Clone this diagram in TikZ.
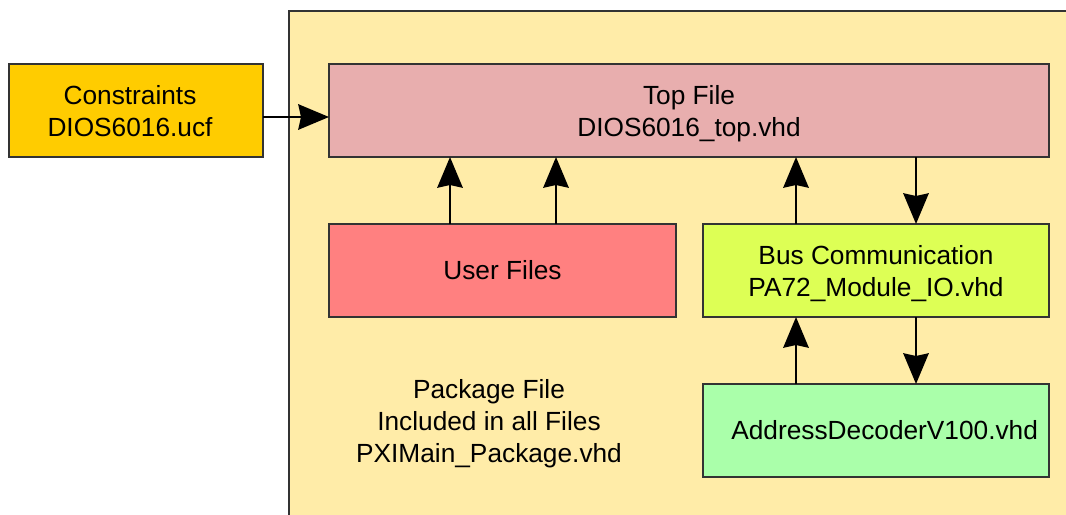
\documentclass[tikz,border=0pt]{standalone}
\usepackage{fontspec}
\setmainfont{Liberation Sans}
\usetikzlibrary{arrows.meta, positioning}

\definecolor{pkgbg}{HTML}{FFECA8}
\definecolor{constrfill}{HTML}{FFCC00}
\definecolor{topfill}{HTML}{E8AEAE}
\definecolor{userfill}{HTML}{FF8080}
\definecolor{busfill}{HTML}{DDFF55}
\definecolor{addrfill}{HTML}{AAFFAA}
\definecolor{edge}{HTML}{333333}

\begin{document}
\begin{tikzpicture}[
  x=0.75pt, y=-0.75pt,
  node distance=50.25pt and 20.25pt,
  every node/.style={align=center, font=\fontsize{19.7}{24}\selectfont},
  box/.style={draw=edge, line width=0.8pt, rectangle, inner sep=0pt, outer sep=0pt, minimum height=69.75pt},
  twoline/.style={text depth=0pt},
  arrow/.style={-{Stealth[length=23pt, width=19pt, inset=2pt]}, line width=2pt}
]
\useasboundingbox (0,0) rectangle (1066,514);

% Package area
\begin{scope}
  \clip (0,0) rectangle (1066,514);
  \filldraw[fill=pkgbg, draw=edge, line width=0.8pt] (289,11) rectangle (1080,530);
\end{scope}

% Nodes
\node[box, twoline, fill=topfill, minimum width=540pt] (top) at (689,110.5) {Top File\\DIOS6016\_top.vhd};
\node[box, twoline, fill=constrfill, minimum width=190.5pt, left=49.5pt of top] (constr) {Constraints\hspace*{9pt}\\DIOS6016.ucf\hspace*{9pt}};
\node[box, fill=userfill, minimum width=260.25pt, below=of top.south west, anchor=north west] (user) {User Files};
\node[box, twoline, fill=busfill, minimum width=259.5pt, right=of user] (bus) {Bus Communication\\PA72\_Module\_IO.vhd};
\node[box, fill=addrfill, minimum width=259.5pt, below=of bus] (addr) {\hspace*{13pt}AddressDecoderV100.vhd};
\node (pkg) at (489,424) {Package File\\Included in all Files\\PXIMain\_Package.vhd};

% Arrows
\draw[arrow] (constr.east |- 0,117) -- (top.west |- 0,117);
\draw[arrow] (450,0 |- user.north) -- (450,0 |- top.south);
\draw[arrow] (556,0 |- user.north) -- (556,0 |- top.south);
\draw[arrow] (796,0 |- bus.north) -- (796,0 |- top.south);
\draw[arrow] (916,0 |- top.south) -- (916,0 |- bus.north);
\draw[arrow] (796,0 |- addr.north) -- (796,0 |- bus.south);
\draw[arrow] (916,0 |- bus.south) -- (916,0 |- addr.north);

\end{tikzpicture}
\end{document}
